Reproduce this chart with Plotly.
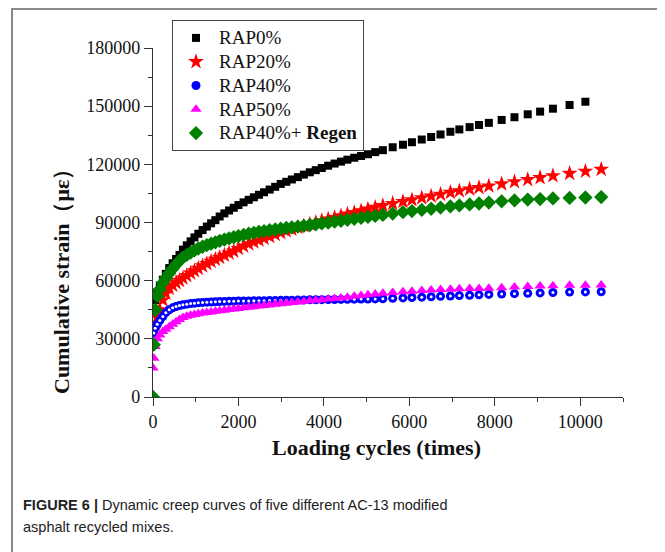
import plotly.graph_objects as go

# Loading cycles (shared sampling grid)
cycles = [0, 20, 50, 100, 160, 230, 300, 380, 460, 540, 620, 700, 790, 880, 970,
          1060, 1160, 1260, 1360, 1460, 1560, 1670, 1780, 1890, 2000, 2120, 2240,
          2360, 2480, 2600, 2730, 2860, 2990, 3120, 3250, 3390, 3530, 3670, 3810,
          3950, 4100, 4250, 4400, 4550, 4710, 4870, 5030, 5200, 5380, 5610, 5850,
          6060, 6290, 6510, 6730, 6960, 7170, 7410, 7630, 7860, 8160, 8460, 8770,
          9060, 9360, 9750, 10120, 10490]

rap0 = [32000, 45000, 50000, 54000, 57500, 60500, 63500, 66500, 69000, 71200, 73300,
        76000, 78200, 80300, 82300, 84200, 86100, 87900, 89600, 91200, 93100, 94700,
        96200, 97600, 99000, 100400, 101700, 103000, 104300, 105600, 107000, 108400,
        109900, 111000, 112200, 113400, 114700, 115900, 117000, 118100, 119300, 120400,
        121400, 122400, 123400, 124300, 125200, 126300, 127300, 128800, 130100, 131400,
        132800, 134100, 135400, 136800, 138000, 139200, 140300, 141400, 142900, 144300,
        145800, 147200, 148700, 150600, 152300]

rap20 = [32000, 35000, 38000, 41000, 45000, 50000, 53500, 56000, 57600, 58900, 60100,
         61300, 62600, 63900, 65100, 66300, 67600, 68800, 69900, 71000, 72000, 73100,
         74200, 75200, 76600, 77800, 79000, 80000, 80900, 81800, 82800, 83800, 84800,
         85700, 86500, 87400, 88300, 89200, 90100, 90900, 91700, 92500, 93400, 94300,
         95100, 96000, 96900, 97800, 98700, 99800, 100800, 101700, 102700, 103600,
         104500, 105500, 106300, 107200, 108000, 108800, 109900, 111000, 112100,
         113100, 114100, 115300, 116400, 117400]

rap40 = [30000, 33000, 35500, 37500, 39500, 41500, 43500, 45000, 46000, 46700, 47200,
         47600, 47900, 48200, 48400, 48600, 48800, 48900, 49000, 49100, 49200, 49300,
         49350, 49400, 49450, 49500, 49550, 49600, 49650, 49700, 49750, 49800, 49850,
         49900, 49950, 50000, 50050, 50100, 50150, 50200, 50250, 50300, 50350, 50400,
         50450, 50500, 50550, 50600, 50700, 50900, 51100, 51300, 51500, 51700, 51900,
         52100, 52300, 52500, 52700, 52900, 53100, 53300, 53500, 53700, 53900, 54100,
         54200, 54300]

rap50 = [15000, 20000, 26000, 30000, 32000, 33800, 35000, 36200, 37500, 38800, 40000,
         41000, 41600, 42100, 42500, 42900, 43300, 43600, 43900, 44200, 44500, 44800,
         45100, 45400, 45700, 46000, 46300, 46600, 46900, 47200, 47500, 47800, 48100,
         48400, 48700, 49000, 49300, 49600, 49900, 50200, 50500, 50800, 51100, 51500,
         51900, 52300, 52700, 53100, 53500, 53900, 54300, 54600, 54900, 55200, 55400,
         55600, 55800, 55900, 56000, 56100, 56400, 56700, 57000, 57200, 57400, 57600,
         57700, 57800]

rap40_regen = [0, 27000, 45000, 52000, 55500, 58800, 61200, 63800, 66200, 68300, 70300,
               72000, 73300, 74500, 75600, 76600, 77500, 78300, 79100, 79800, 80500,
               81200, 81800, 82400, 83000, 83600, 84200, 84700, 85200, 85600, 86000,
               86400, 86800, 87200, 87500, 87900, 88300, 88700, 89100, 89500, 89900,
               90400, 90900, 91400, 91900, 92400, 92900, 93400, 93900, 94600, 95300,
               95900, 96500, 97100, 97700, 98300, 98800, 99300, 99800, 100300, 100900,
               101400, 101800, 102100, 102400, 102700, 102900, 103100]

series_names = ["RAP0%", "RAP20%", "RAP40%", "RAP50%", "RAP40%+ <b>Regen</b>"]
x_ticks = [0, 2000, 4000, 6000, 8000, 10000]
y_ticks = [0, 30000, 60000, 90000, 120000, 150000, 180000]

SERIF = "Liberation Serif, Times New Roman, serif"
SANS = "Liberation Sans, Arial, sans-serif"


def leg(name):
    return "<span style='font-size:19px'>" + name + "</span>"


fig = go.Figure()
fig.add_trace(go.Scatter(x=cycles[:len(rap0)], y=rap0, mode="markers", name=leg(series_names[0]),
                         marker=dict(symbol="square", size=8, color="#000000")))
fig.add_trace(go.Scatter(x=cycles, y=rap20, mode="markers", name=leg(series_names[1]),
                         marker=dict(symbol="star", size=12, color="#ff0000")))
fig.add_trace(go.Scatter(x=cycles, y=rap40, mode="markers", name=leg(series_names[2]),
                         marker=dict(symbol="circle", size=9, color="#0000ff")))
fig.add_trace(go.Scatter(x=cycles, y=rap40, mode="markers", showlegend=False,
                         hoverinfo="skip",
                         marker=dict(symbol="circle", size=3, color="#ffffff")))
fig.add_trace(go.Scatter(x=cycles, y=rap50, mode="markers", name=leg(series_names[3]),
                         marker=dict(symbol="triangle-up", size=10, color="#ff00ff")))
fig.add_trace(go.Scatter(x=cycles, y=rap40_regen, mode="markers",
                         name=leg(series_names[4]),
                         marker=dict(symbol="diamond", size=11, color="#007f00")))

axis_common = dict(
    showline=True, linecolor="#333333", linewidth=1.2,
    ticks="outside", ticklen=8, tickwidth=1.2, tickcolor="#333333",
    showgrid=False, zeroline=False,
    tickfont=dict(family=SERIF, size=18, color="#111111"),
    mirror=False,
)

fig.update_xaxes(range=[0, 11000], tickvals=x_ticks, ticktext=[str(v) for v in x_ticks],
                 minor=dict(dtick=1000, ticklen=4, tickcolor="#333333", ticks="outside"),
                 **axis_common)
fig.update_yaxes(range=[0, 180000], tickvals=y_ticks, ticktext=[str(v) for v in y_ticks],
                 minor=dict(dtick=15000, ticklen=4, tickcolor="#333333", ticks="outside"),
                 **axis_common)

# page offset from the default body margin
OFF = 8
W, H = 657, 544
L = 153 - OFF
T = 48 - OFF
R = W - (623 - OFF)
B = H - (397 - OFF)
pw, ph = W - L - R, H - T - B


def px(xp):
    return (xp - OFF - L) / pw


def py(yp):
    return (H - B - (yp - OFF)) / ph


fig.update_layout(
    width=W, height=H,
    margin=dict(l=L, r=R, t=T, b=B, pad=0),
    paper_bgcolor="white", plot_bgcolor="white",
    showlegend=True,
    legend=dict(x=px(172), y=py(20), xanchor="left", yanchor="top",
                bordercolor="#444444", borderwidth=1, bgcolor="white",
                font=dict(family=SERIF, size=16, color="#111111"),
                tracegroupgap=0, itemsizing="trace", itemwidth=36),
    shapes=[dict(type="rect", xref="paper", yref="paper",
                 x0=px(12), x1=px(662), y0=py(570), y1=py(9),
                 line=dict(color="#8a8a8a", width=2), layer="below")],
    annotations=[
        dict(text="<b>Loading cycles (times)</b>", x=px(376), y=py(447),
             xref="paper", yref="paper", showarrow=False, xanchor="center",
             yanchor="middle", font=dict(family=SERIF, size=22, color="#111111")),
        dict(text="<b>Cumulative strain（με）</b>", x=px(61), y=py(276),
             xref="paper", yref="paper", showarrow=False, xanchor="center",
             yanchor="middle", textangle=-90,
             font=dict(family=SERIF, size=22, color="#111111")),
        dict(text="<b>FIGURE 6 |</b> Dynamic creep curves of five different AC-13 modified",
             x=px(21), y=py(505), xref="paper", yref="paper", showarrow=False,
             xanchor="left", yanchor="middle", align="left",
             font=dict(family=SANS, size=14.5, color="#222222")),
        dict(text="asphalt recycled mixes.",
             x=px(21), y=py(527), xref="paper", yref="paper", showarrow=False,
             xanchor="left", yanchor="middle", align="left",
             font=dict(family=SANS, size=14.5, color="#222222")),
    ],
)

fig.write_html("out.html")
